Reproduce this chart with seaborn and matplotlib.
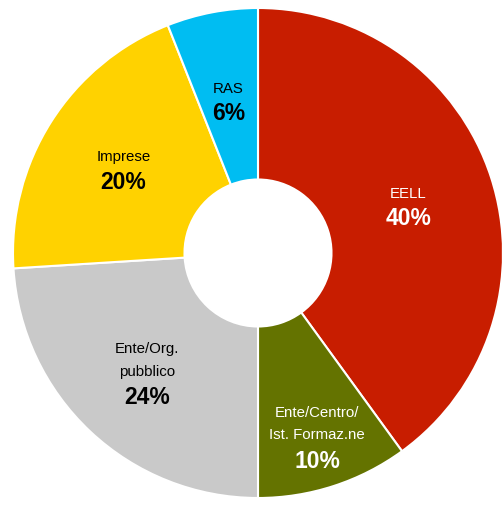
import numpy as np
import matplotlib
matplotlib.use("Agg")
import matplotlib.pyplot as plt
import seaborn as sns

# Dati
categorie = ["EELL", "Ente/Centro/\nIst. Formaz.ne", "Ente/Org.\npubblico", "Imprese", "RAS"]
valori = [40, 10, 24, 20, 6]
colori = ["#C81D00", "#647300", "#C9C9C9", "#FFD200", "#00BDF2"]
colori_testo = ["white", "white", "black", "black", "black"]
dist_etichette = [0.645, 0.78, 0.66, 0.65, 0.64]

sns.set_theme(style="white")
plt.rcParams["font.family"] = ["Liberation Sans", "DejaVu Sans"]

fig = plt.figure(figsize=(5.03, 5.05), dpi=100)
ax = fig.add_axes([13 / 503, 7 / 505, 490 / 503, 490 / 505])

wedges, _ = ax.pie(valori, colors=colori, startangle=90, counterclock=False,
                   radius=1, wedgeprops=dict(width=0.7, edgecolor="white", linewidth=1.5))

step = 18.0  # punti tra le righe
for w, nome, v, col, d in zip(wedges, categorie, valori, colori_testo, dist_etichette):
    ang = np.deg2rad((w.theta1 + w.theta2) / 2)
    x, y = d * np.cos(ang), d * np.sin(ang)
    k = nome.count("\n") + 1
    ax.annotate(nome, (x, y), xytext=(0, step / 2 - 1.5), textcoords="offset points",
                ha="center", va="center", fontsize=10.8, color=col, linespacing=1.75)
    ax.annotate(f"{v}%", (x, y), xytext=(0, -k * step / 2 - 1.5), textcoords="offset points",
                ha="center", va="center", fontsize=16.5, fontweight="bold", color=col)

ax.set_xlim(-1, 1)
ax.set_ylim(-1, 1)
ax.set_aspect("equal")
ax.axis("off")

fig.savefig("out.png", dpi=100, facecolor="white")
